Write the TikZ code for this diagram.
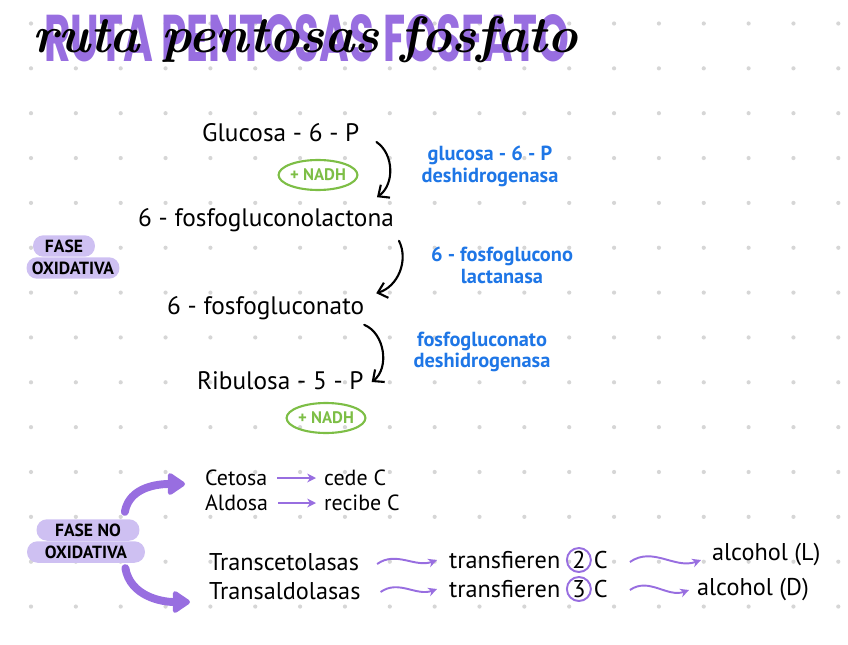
\documentclass[tikz,border=0pt]{standalone}
\usepackage{fontspec}
\newfontfamily\hand{PT Sans}
\newfontfamily\heavy{Poppins}
\usetikzlibrary{arrows.meta,calc,shapes.geometric,positioning}
\definecolor{lila}{RGB}{152,110,224}
\definecolor{lilalight}{RGB}{206,192,242}
\definecolor{azul}{RGB}{30,118,230}
\definecolor{verde}{RGB}{125,190,70}
\definecolor{punto}{RGB}{214,214,214}
\tikzset{
    mol/.style={font=\hand\fontsize{14.4}{16}\selectfont, inner sep=1pt, anchor=west},
    sub/.style={mol, font=\hand\fontsize{12.5}{14}\selectfont},
    trans/.style={mol, font=\hand\fontsize{13.8}{15}\selectfont},
    enzyme/.style={font=\hand\bfseries\fontsize{11.6}{12.4}\selectfont, text=azul,
                   align=center, inner sep=1pt},
    nadh/.style={ellipse, draw=verde, line width=1.2pt, text=verde,
                 font=\hand\bfseries\fontsize{9.5}{10}\selectfont,
                 minimum width=1.55cm, minimum height=0.6cm, inner sep=0pt},
    pill/.style={fill=lilalight, rounded corners=0.21cm, minimum height=0.43cm,
                 inner sep=0pt, font=\hand\bfseries\fontsize{10}{11}\selectfont},
    ring/.style={circle, draw=lila, line width=1.1pt, inner sep=0pt,
                 minimum size=0.48cm, font=\hand\fontsize{13.8}{15}\selectfont},
    reac/.style={-{Straight Barb[length=5pt,width=9pt]}, line width=1.2pt, line cap=round},
    flow/.style={-{Stealth[length=5pt,width=5pt]}, line width=1.1pt, draw=lila},
    bigflow/.style={-{Triangle[length=11pt,width=14pt,round]}, line width=4.5pt,
                    draw=lila, line cap=round},
}
\begin{document}
\begin{tikzpicture}[x=0.02cm, y=0.02cm]
    \path[use as bounding box] (0,0) rectangle (848,-645);
    \foreach \i in {0,...,18}
        \foreach \j in {0,...,13}
            \fill[punto] ({31+44.85*\i},{-23.5-44.85*\j}) circle (1.2pt);

    \node[text=lila, inner sep=0pt] (titulo) at (307,-38)
        {\resizebox{10.5cm}{0.94cm}{\heavy\bfseries RUTA PENTOSAS FOSFATO}};
    \node[inner sep=0pt] (cursiva) at (305,-40)
        {\resizebox{10.9cm}{!}{\bfseries\itshape ruta pentosas fosfato}};

    \node[mol] (g6p) at (200,-133) {Glucosa - 6 - P};
    \node[mol] (lacton) at (136,-220) {6 - fosfogluconolactona};
    \node[mol] (fgluc) at (165,-308) {6 - fosfogluconato};
    \node[mol] (ru5p) at (195,-381) {Ribulosa - 5 - P};
    \node[nadh] (nadhuno) at (318,-175) {+ NADH};
    \node[nadh] (nadhdos) at (326,-418) {+ NADH};

    \node[enzyme] (enzuno) at (490,-166) {glucosa - 6 - P\\deshidrogenasa};
    \node[enzyme] (enzdos) at (502,-265) {6 - fosfoglucono\\lactanasa};
    \node[enzyme] (enztres) at (482,-352) {fosfogluconato\\deshidrogenasa};

    \draw[reac] ([shift={(15,-9)}]g6p.east) to[bend left=55]
        ([shift={(-19,9)}]lacton.north east);
    \draw[reac] ([shift={(3,-7)}]lacton.south east) to[bend left=50]
        ([shift={(10,1)}]fgluc.north east);
    \draw[reac] ([shift={(-2,-3)}]fgluc.south east) to[bend left=60]
        ([shift={(6,-1)}]ru5p.east);

    \node[pill, minimum width=1.24cm] (fase) at (64,-246) {FASE};
    \node[pill, minimum width=1.86cm] (oxid) at (73,-268) {OXIDATIVA};
    \node[pill, minimum width=2.06cm] (faseno) at (88,-530) {FASE NO};
    \node[pill, minimum width=2.36cm] (noox) at (86,-552) {OXIDATIVA};

    \node[sub] (cetosa) at (203,-478) {Cetosa};
    \node[sub] (cede) at (322,-478) {cede C};
    \node[sub] (aldosa) at (203,-503) {Aldosa};
    \node[sub] (recibe) at (322,-503) {recibe C};
    \draw[flow] ([shift={(8,0)}]cetosa.east) -- ([shift={(-6,0)}]cede.west);
    \draw[flow] ([shift={(8,0)}]aldosa.east) -- ([shift={(-6,0)}]recibe.west);

    \node[trans] (tcet) at (207,-562) {Transcetolasas};
    \node[trans] (tald) at (207,-591) {Transaldolasas};
    \node[trans] (tfdos) at (447,-560) {transfieren};
    \node[ring, right=2pt of tfdos] (dos) {2};
    \node[trans, right=0pt of dos] (cdos) {C};
    \node[trans] (tftres) at (447,-589) {transfieren};
    \node[ring, right=2pt of tftres] (tres) {3};
    \node[trans, right=0pt of tres] (ctres) {C};
    \node[trans] (alcl) at (710,-555) {alcohol (L)};
    \node[trans] (alcd) at (695,-590) {alcohol (D)};

    \draw[flow] ([shift={(16,-2)}]tcet.east) to[out=35,in=200]
        ([shift={(-10,0)}]tfdos.west);
    \draw[flow] ([shift={(18,-1)}]tald.east) to[out=35,in=200]
        ([shift={(-10,0)}]tftres.west);
    \draw[flow] ([shift={(20,-2)}]cdos.east) to[out=35,in=200]
        ([shift={(-9,-5)}]alcl.west);
    \draw[flow] ([shift={(20,-1)}]ctres.east) to[out=35,in=200]
        ([shift={(-6,0)}]alcd.west);

    \draw[bigflow] ([shift={(-15,7)}]faseno.north east) to[out=80,in=180]
        ([shift={(-18,-6)}]cetosa.west);
    \draw[bigflow] ([shift={(-20,-5)}]noox.south east) to[out=-80,in=180]
        ([shift={(-17,-11)}]tald.west);
\end{tikzpicture}
\end{document}
